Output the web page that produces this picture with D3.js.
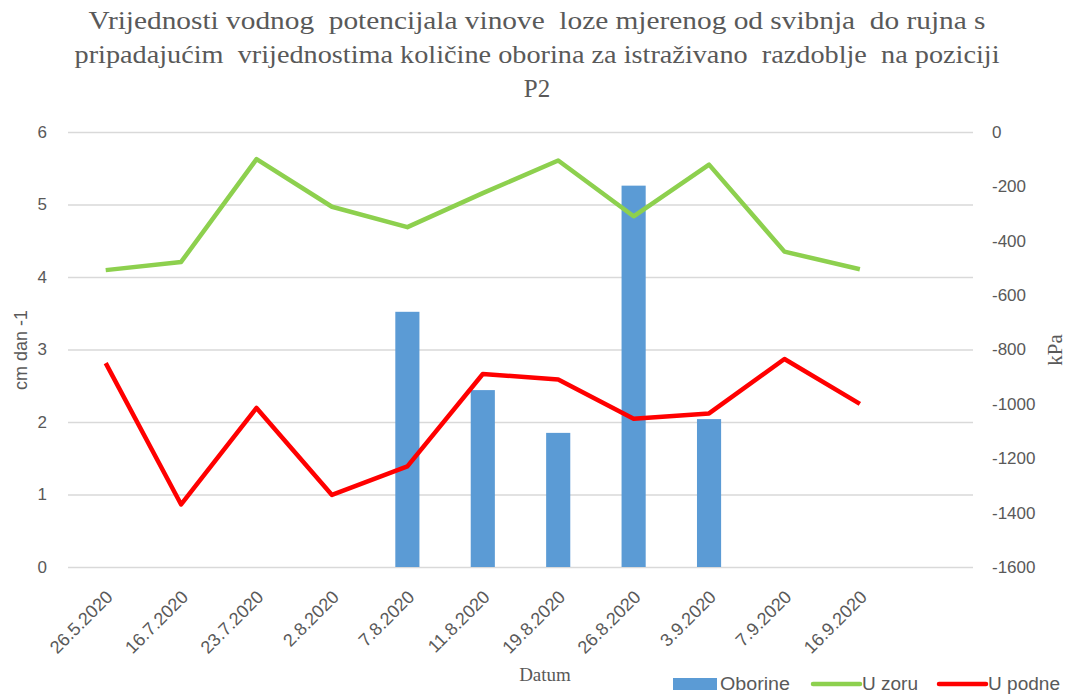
<!DOCTYPE html>
<html>
<head>
<meta charset="utf-8">
<script src="https://cdn.jsdelivr.net/npm/d3@7"></script>
<style>
  body { margin: 0; background: #fff; }
  svg text { fill: #595959; }
  .sans { font-family: "Liberation Sans", Arial, sans-serif; }
  .serif { font-family: "Liberation Serif", "Times New Roman", serif; }
</style>
</head>
<body>
<div id="chart"></div>
<script>
// categories (the last slot is empty, as in the original)
const dates = ['26.5.2020', '16.7.2020', '23.7.2020', '2.8.2020', '7.8.2020', '11.8.2020',
               '19.8.2020', '26.8.2020', '3.9.2020', '7.9.2020', '16.9.2020', ''];
// Oborine, cm dan -1 (left axis)
const oborine = [null, null, null, null, 3.52, 2.44, 1.85, 5.26, 2.04, null, null, null];
// U zoru, kPa (right axis)
const uZoru = [-508, -478, -100, -275, -350, -225, -105, -310, -120, -440, -505, null];
// U podne, kPa (right axis)
const uPodne = [-850, -1370, -1015, -1335, -1230, -890, -910, -1055, -1035, -835, -1000, null];

const leftTicks = [0, 1, 2, 3, 4, 5, 6];
const rightTicks = [0, -200, -400, -600, -800, -1000, -1200, -1400, -1600];

const titleLines = [
  'Vrijednosti vodnog  potencijala vinove  loze mjerenog od svibnja  do rujna s',
  'pripadajućim  vrijednostima količine oborina za istraživano  razdoblje  na poziciji',
  'P2'
];
const titleWidths = [897, 925, 0];

const width = 1074, height = 695;
const margin = { top: 132, right: 101, bottom: 128, left: 68 };
const innerW = width - margin.left - margin.right;
const innerH = height - margin.top - margin.bottom;

const svg = d3.select('#chart').append('svg')
  .attr('width', width).attr('height', height);

// title
svg.append('g').selectAll('text')
  .data(titleLines).enter().append('text')
  .attr('class', 'serif')
  .attr('x', width / 2)
  .attr('y', (d, i) => 29 + i * 34)
  .attr('text-anchor', 'middle')
  .attr('font-size', 25)
  .style('white-space', 'pre')
  .each(function(d, i) {
    if (titleWidths[i]) {
      d3.select(this).attr('textLength', titleWidths[i]).attr('lengthAdjust', 'spacingAndGlyphs');
    }
  })
  .text(d => d);

const g = svg.append('g').attr('transform', `translate(${margin.left},${margin.top})`);

const x = d3.scaleBand().domain(d3.range(dates.length)).range([0, innerW]);
const yL = d3.scaleLinear().domain([0, 6]).range([innerH, 0]);
const yR = d3.scaleLinear().domain([-1600, 0]).range([innerH, 0]);

// gridlines from the left axis
g.append('g')
  .call(d3.axisLeft(yL).tickValues(leftTicks).tickSize(-innerW).tickFormat(''))
  .call(a => a.select('.domain').remove())
  .call(a => a.selectAll('line').attr('stroke', '#d9d9d9').attr('stroke-width', 1.3));

// left axis labels
g.append('g')
  .call(d3.axisLeft(yL).tickValues(leftTicks).tickSize(0).tickPadding(21).tickFormat(d => String(d)))
  .call(a => a.select('.domain').remove())
  .call(a => a.selectAll('text').attr('class', 'sans').attr('font-size', 17).attr('fill', '#595959'));

// right axis labels
g.append('g')
  .attr('transform', `translate(${innerW},0)`)
  .call(d3.axisRight(yR).tickValues(rightTicks).tickSize(0).tickPadding(19).tickFormat(d => String(d)))
  .call(a => a.select('.domain').remove())
  .call(a => a.selectAll('text').attr('class', 'sans').attr('font-size', 17).attr('fill', '#595959'));

// x axis labels
const xAxis = g.append('g')
  .attr('transform', `translate(0,${innerH})`)
  .call(d3.axisBottom(x).tickSize(0).tickFormat(i => dates[i]))
  .call(a => a.select('.domain').remove());
xAxis.selectAll('text')
  .attr('class', 'sans')
  .attr('font-size', 18)
  .attr('fill', '#595959')
  .attr('text-anchor', 'end')
  .attr('dy', 0)
  .attr('transform', 'translate(6,29) rotate(-45)');

// bars
const barW = x.bandwidth() * 0.32;
g.append('g').selectAll('rect')
  .data(oborine.map((v, i) => ({ v, i })).filter(d => d.v != null))
  .enter().append('rect')
  .attr('x', d => x(d.i) + (x.bandwidth() - barW) / 2)
  .attr('y', d => yL(d.v))
  .attr('width', barW)
  .attr('height', d => innerH - yL(d.v))
  .attr('fill', '#5b9bd5');

// lines
const line = d3.line()
  .defined(d => d.v != null)
  .x(d => x(d.i) + x.bandwidth() / 2)
  .y(d => yR(d.v));

[[uZoru, '#8dd04e'], [uPodne, '#ff0000']].forEach(([series, color]) => {
  g.append('path')
    .datum(series.map((v, i) => ({ v, i })))
    .attr('fill', 'none')
    .attr('stroke', color)
    .attr('stroke-width', 4.5)
    .attr('stroke-linejoin', 'round')
    .attr('d', line);
});

// axis titles
svg.append('text')
  .attr('class', 'sans')
  .attr('font-size', 18)
  .attr('text-anchor', 'middle')
  .attr('transform', 'translate(27,350) rotate(-90)')
  .text('cm dan -1');

svg.append('text')
  .attr('class', 'serif')
  .attr('font-size', 21)
  .attr('text-anchor', 'middle')
  .attr('transform', 'translate(1062,350) rotate(-90)')
  .text('kPa');

svg.append('text')
  .attr('class', 'serif')
  .attr('font-size', 19)
  .attr('text-anchor', 'middle')
  .attr('x', 545)
  .attr('y', 681)
  .text('Datum');

// legend
const legend = [
  { name: 'Oborine', color: '#5b9bd5', type: 'rect', x: 673 },
  { name: 'U zoru', color: '#8dd04e', type: 'line', x: 813 },
  { name: 'U podne', color: '#ff0000', type: 'line', x: 939 }
];
const lg = svg.append('g').attr('transform', 'translate(0,684)');
legend.forEach(d => {
  if (d.type === 'rect') {
    lg.append('rect').attr('x', d.x).attr('y', -6).attr('width', 44).attr('height', 12).attr('fill', d.color);
  } else {
    lg.append('line').attr('x1', d.x).attr('x2', d.x + 47).attr('y1', 0).attr('y2', 0)
      .attr('stroke', d.color).attr('stroke-width', 4.5).attr('stroke-linecap', 'round');
  }
  lg.append('text')
    .attr('class', 'sans')
    .attr('font-size', 18)
    .attr('x', d.x + (d.type === 'rect' ? 47 : 49))
    .attr('dy', '0.35em')
    .attr('textLength', d.name === 'Oborine' ? 70 : (d.name === 'U zoru' ? 56 : 72))
    .attr('lengthAdjust', 'spacingAndGlyphs')
    .text(d.name);
});
</script>
</body>
</html>
